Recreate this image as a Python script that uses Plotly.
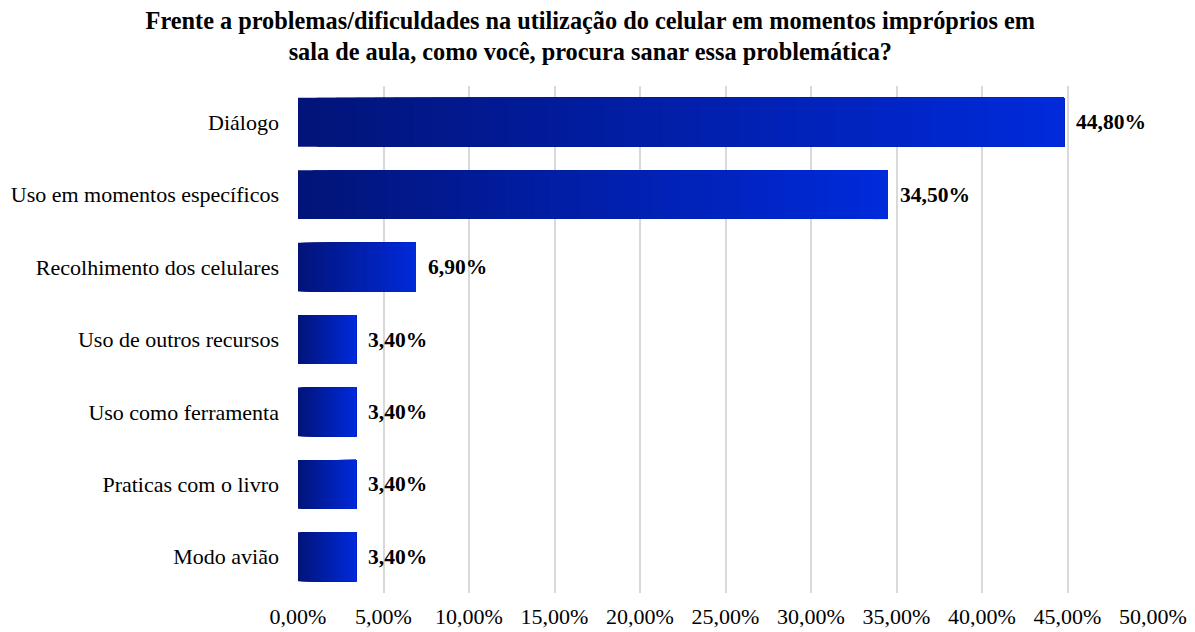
import plotly.graph_objects as go

categories = ["Diálogo", "Uso em momentos específicos", "Recolhimento dos celulares",
              "Uso de outros recursos", "Uso como ferramenta", "Praticas com o livro", "Modo avião"]
values = [44.8, 34.5, 6.9, 3.4, 3.4, 3.4, 3.4]
value_labels = ["44,80%", "34,50%", "6,90%", "3,40%", "3,40%", "3,40%", "3,40%"]
tick_values = [0, 5, 10, 15, 20, 25, 30, 35, 40, 45, 50]
tick_labels = ["0,00%", "5,00%", "10,00%", "15,00%", "20,00%", "25,00%",
               "30,00%", "35,00%", "40,00%", "45,00%", "50,00%"]

title_text = ("Frente a problemas/dificuldades na utilização do celular em momentos impróprios em<br>"
              "sala de aula, como você, procura sanar essa problemática?")

FONT = "Liberation Serif, Times New Roman, serif"
c_left = (2, 20, 122)
c_right = (0, 42, 218)
N = 40

fig = go.Figure()
# gradient bars: each layer starts further right and covers the rest of the bar
for k in range(N):
    t = k / (N - 1)
    col = "rgb(%d,%d,%d)" % tuple(round(a + (b - a) * t) for a, b in zip(c_left, c_right))
    bases = [v * k / N for v in values]
    lens = [v - b for v, b in zip(values, bases)]
    fig.add_trace(go.Bar(
        y=categories, x=lens, base=bases, orientation="h",
        marker=dict(color=col, line=dict(width=0)),
        width=0.675, showlegend=False, hoverinfo="skip" if k < N - 1 else None,
    ))

for cat, v, lab in zip(categories, values, value_labels):
    fig.add_annotation(x=v, y=cat, text="<b>%s</b>" % lab, showarrow=False,
                       xanchor="left", yanchor="middle", xshift=10,
                       font=dict(family=FONT, size=21.5, color="black"))

fig.update_layout(
    barmode="overlay",
    width=1195, height=632,
    margin=dict(l=298, r=42, t=86, b=39, autoexpand=False),
    plot_bgcolor="white", paper_bgcolor="white",
    title=dict(text="<b>%s</b>" % title_text, x=0.494, xanchor="center",
               y=1 - 28.5 / 632, yanchor="middle",
               font=dict(family=FONT, size=24.3, color="black")),
    xaxis=dict(range=[0, 50], tickvals=tick_values, ticktext=tick_labels,
               showgrid=True, gridcolor="#d9d9d9", gridwidth=1.5, zeroline=False,
               showline=False, ticks="", ticklabelstandoff=8, automargin=False,
               tickfont=dict(family=FONT, size=22, color="black")),
    yaxis=dict(categoryorder="array", categoryarray=categories, autorange="reversed",
               showgrid=False, zeroline=False, showline=False, ticks="",
               ticklabelstandoff=18, automargin=False,
               tickfont=dict(family=FONT, size=22, color="black")),
)

fig.write_html("out.html", config={"displayModeBar": False},
               post_script="document.body.style.margin='0';")
